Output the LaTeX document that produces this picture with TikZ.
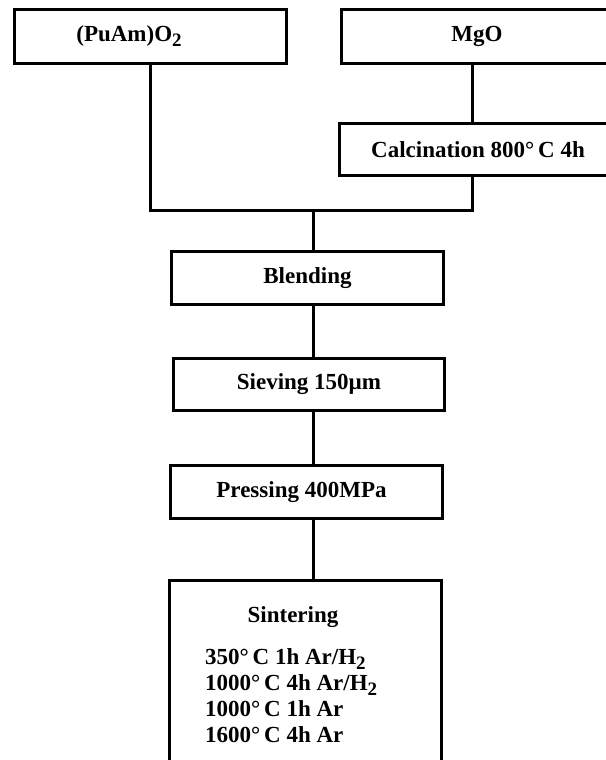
\documentclass[tikz,border=0pt]{standalone}
\usepackage{fontspec}
\setmainfont{Liberation Serif}
\usepackage{tikz}
\newcommand{\subtwo}{\raisebox{-5pt}{\fontsize{19}{19}\selectfont 2}}
\tikzset{%
    stagebox/.style={%
        draw, line width=3pt, rectangle, inner sep=0pt,
        font=\fontsize{23}{26}\selectfont\bfseries
    },
    flow/.style={line width=3pt}
}

\begin{document}
\begin{tikzpicture}[x=1pt,y=-1pt]
    \useasboundingbox (0,0) rectangle (605,760);
    \node[stagebox,minimum width=272pt,minimum height=54pt] (puam) at (150,36.5) {(PuAm)O\subtwo\hspace*{42pt}};
    \node[stagebox,minimum width=272pt,minimum height=54pt] (mgo) at (477,36.5) {MgO};
    \node[stagebox,minimum width=274pt,minimum height=52pt] (calc) at (476,149.5) {\hspace*{4pt}Calcination 800°\,C 4h};
    \node[stagebox,minimum width=272pt,minimum height=53pt] (blend) at (307.5,278) {Blending};
    \node[stagebox,minimum width=271pt,minimum height=52pt] (sieve) at (309,384.5) {Sieving 150µm};
    \node[stagebox,minimum width=272pt,minimum height=53pt] (press) at (306.5,492) {Pressing 400MPa\hspace*{10pt}};
    \node[stagebox,minimum width=272pt,minimum height=190pt] (sinter) at (305.5,675.5) {};
    \node[font=\fontsize{23}{26}\selectfont\bfseries,inner sep=0pt] (sintertitle) at (293,617) {Sintering};
    \node[font=\fontsize{23}{26}\selectfont\bfseries,inner sep=0pt,align=left,anchor=west] (sintersteps) at (205,695.5) {%
        350°\,C 1h Ar/H\subtwo\\
        1000°\,C 4h Ar/H\subtwo\\
        1000°\,C 1h Ar\\
        1600°\,C 4h Ar};
    \coordinate (merge) at (313,210);
    \coordinate (branch) at (472,210);
    \draw[flow] (branch |- mgo.south) -- (branch |- calc.north);
    \draw[flow] (puam.south) |- (branch) -- (branch |- calc.south);
    \draw[flow] (merge) -- (merge |- blend.north);
    \draw[flow] (merge |- blend.south) -- (merge |- sieve.north);
    \draw[flow] (merge |- sieve.south) -- (merge |- press.north);
    \draw[flow] (merge |- press.south) -- (merge |- sinter.north);
\end{tikzpicture}
\end{document}
